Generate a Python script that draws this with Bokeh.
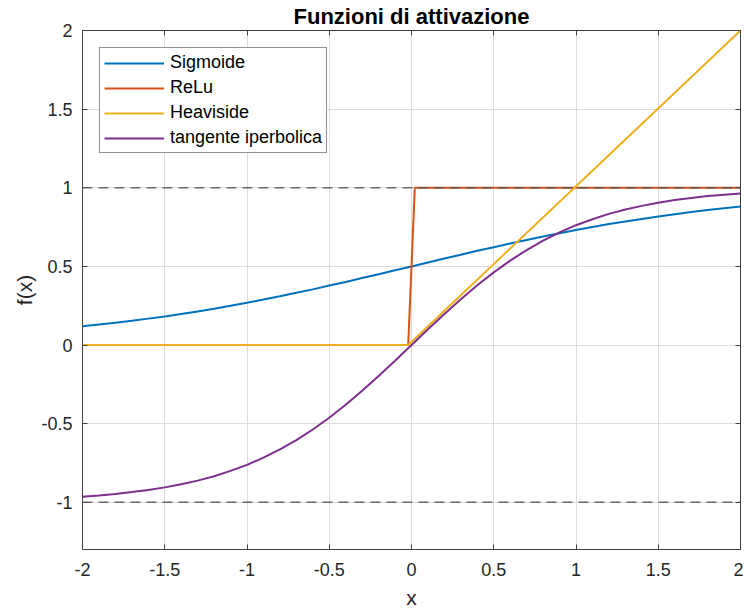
from bokeh.plotting import figure
from bokeh.models import Range1d, LinearAxis, FixedTicker, Span
from bokeh.embed import file_html
from bokeh.resources import INLINE

# ---- data ----
x_vals = [-2.0, -1.9, -1.8, -1.7, -1.6, -1.5, -1.4, -1.3, -1.2, -1.1, -1.0,
          -0.9, -0.8, -0.7, -0.6, -0.5, -0.4, -0.3, -0.2, -0.1, 0.0,
          0.1, 0.2, 0.3, 0.4, 0.5, 0.6, 0.7, 0.8, 0.9, 1.0,
          1.1, 1.2, 1.3, 1.4, 1.5, 1.6, 1.7, 1.8, 1.9, 2.0]
sigmoide = [0.119, 0.130, 0.142, 0.154, 0.168, 0.182, 0.198, 0.214, 0.231, 0.250, 0.269,
            0.289, 0.310, 0.332, 0.354, 0.378, 0.401, 0.426, 0.450, 0.475, 0.500,
            0.525, 0.550, 0.574, 0.599, 0.622, 0.646, 0.668, 0.690, 0.711, 0.731,
            0.750, 0.769, 0.786, 0.802, 0.818, 0.832, 0.846, 0.858, 0.870, 0.881]
tangente = [-0.964, -0.956, -0.947, -0.935, -0.922, -0.905, -0.885, -0.862, -0.834, -0.800, -0.762,
            -0.716, -0.664, -0.604, -0.537, -0.462, -0.380, -0.291, -0.197, -0.100, 0.000,
            0.100, 0.197, 0.291, 0.380, 0.462, 0.537, 0.604, 0.664, 0.716, 0.762,
            0.800, 0.834, 0.862, 0.885, 0.905, 0.922, 0.935, 0.947, 0.956, 0.964]
step_x = [-2.0, -0.02, 0.02, 2.0]
step_y = [0.0, 0.0, 1.0, 1.0]
ramp_x = [-2.0, -0.02, 2.0]
ramp_y = [0.0, 0.0, 2.0]
ref_levels = [1.0, -1.0]

labels = ["Sigmoide", "ReLu", "Heaviside", "tangente iperbolica"]
colors = ["#0072BD", "#D95319", "#EDB120", "#7E2F8E"]

x_ticks = [-2, -1.5, -1, -0.5, 0, 0.5, 1, 1.5, 2]
x_tick_labels = ["-2", "-1.5", "-1", "-0.5", "0", "0.5", "1", "1.5", "2"]
y_ticks = [-1, -0.5, 0, 0.5, 1, 1.5, 2]
y_tick_labels = ["-1", "-0.5", "0", "0.5", "1", "1.5", "2"]

FONT = "Liberation Sans"
AX = "#404040"

p = figure(width=743, height=611, output_backend="svg", toolbar_location=None,
           x_range=Range1d(-2, 2), y_range=Range1d(-1.3, 2),
           min_border_left=82, min_border_right=3, min_border_top=30, min_border_bottom=50,
           title="Funzioni di attivazione")
p.title.align = "center"
p.title.vertical_align = "top"
p.title.text_font = FONT
p.title.text_font_size = "22px"
p.title.text_font_style = "bold"
p.title.text_color = "#000000"
p.title.text_line_height = 1.0
p.title.offset = 0
p.title.standoff = 0

p.outline_line_color = AX
p.outline_line_width = 1
p.background_fill_color = "white"
p.border_fill_color = "white"

lw = 2
p.line(x_vals, sigmoide, color=colors[0], line_width=lw, legend_label=labels[0])
p.line(step_x, step_y, color=colors[1], line_width=lw, legend_label=labels[1])
p.line(ramp_x, ramp_y, color=colors[2], line_width=lw, legend_label=labels[2])
p.line(x_vals, tangente, color=colors[3], line_width=lw, legend_label=labels[3])

for lv in ref_levels:
    p.add_layout(Span(location=lv, dimension="width", line_color="#555555",
                      line_width=1.5, line_dash="10 6", line_alpha=0.85))

# axes
def style_axis(ax, ticks, labs, show_labels=True):
    ax.ticker = FixedTicker(ticks=ticks)
    ax.major_label_overrides = {t: (l if show_labels else "") for t, l in zip(ticks, labs)}
    ax.minor_tick_line_color = None
    ax.major_tick_in = 5
    ax.major_tick_out = 0
    ax.axis_line_color = AX
    ax.major_tick_line_color = AX
    ax.major_label_text_font = FONT
    ax.major_label_text_font_size = "18px"
    ax.major_label_text_color = "#262626"
    ax.axis_label_text_font = FONT
    ax.axis_label_text_font_size = "21px"
    ax.axis_label_text_font_style = "normal"
    ax.axis_label_text_color = "#262626"

style_axis(p.xaxis[0], x_ticks, x_tick_labels)
style_axis(p.yaxis[0], y_ticks, y_tick_labels)
p.xaxis[0].axis_label = "x"
p.yaxis[0].axis_label = "f(x)"
p.xaxis[0].major_label_standoff = 13
p.yaxis[0].major_label_standoff = 10
p.xaxis[0].axis_label_standoff = 7
p.yaxis[0].axis_label_standoff = 2

top_ax = LinearAxis()
style_axis(top_ax, x_ticks, x_tick_labels, show_labels=False)
top_ax.major_label_standoff = 0
top_ax.axis_label_standoff = 0
top_ax.major_label_text_font_size = "0px"
p.add_layout(top_ax, "above")
right_ax = LinearAxis()
style_axis(right_ax, y_ticks, y_tick_labels, show_labels=False)
right_ax.major_label_standoff = 0
right_ax.axis_label_standoff = 0
right_ax.major_label_text_font_size = "0px"
p.add_layout(right_ax, "right")

p.xgrid.ticker = FixedTicker(ticks=x_ticks)
p.ygrid.ticker = FixedTicker(ticks=y_ticks)
p.grid.grid_line_color = "#dcdcdc"
p.grid.grid_line_width = 1

leg = p.legend[0]
leg.location = "top_left"
leg.margin = 17
leg.padding = 4
leg.spacing = 4
leg.glyph_width = 60
leg.glyph_height = 20
leg.label_standoff = 6
leg.label_text_font = FONT
leg.label_text_font_size = "18px"
leg.label_text_color = "#000000"
leg.border_line_color = "#262626"
leg.border_line_width = 1
leg.background_fill_alpha = 1

open("out.html", "w").write(file_html(p, INLINE))
